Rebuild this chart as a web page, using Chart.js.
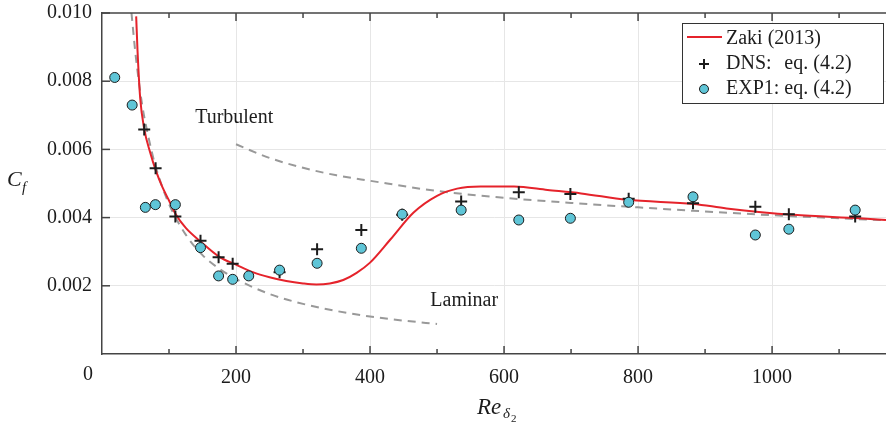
<!DOCTYPE html>
<html>
<head>
<meta charset="utf-8">
<script src="https://cdn.jsdelivr.net/npm/chart.js@4.4.1/dist/chart.umd.min.js"></script>
<style>
  html, body { margin: 0; padding: 0; background: #fff; }
  #wrap { width: 886px; height: 425px; }
</style>
</head>
<body>
<div id="wrap"><canvas id="myChart" width="886" height="425"></canvas></div>
<script>
// Zaki (2013) curve
const zakiRe = [51, 53, 57, 63, 72, 80, 90, 100, 110, 125, 147, 175, 200, 225, 250, 275, 300, 320, 340, 360, 380, 400, 430, 465, 500, 530, 565, 615, 665, 715, 783, 883, 932, 1032, 1131, 1170];
const zakiCf = [0.0099, 0.0089, 0.0075, 0.0066, 0.0059, 0.0054, 0.0049, 0.0045, 0.0041, 0.0037, 0.0033, 0.00285, 0.00262, 0.0024, 0.00225, 0.00214, 0.00207, 0.00204, 0.00207, 0.00217, 0.00238, 0.00268, 0.00335, 0.00415, 0.00464, 0.00485, 0.00491, 0.00491, 0.00481, 0.00471, 0.00452, 0.0044, 0.00427, 0.00408, 0.00398, 0.00393];

// DNS: eq. (4.2)
const dnsRe = [63, 80, 109.5, 147, 174, 195, 265, 321, 387, 448, 536, 622, 699, 786, 882, 975, 1025, 1124];
const dnsCf = [0.00658, 0.00545, 0.00403, 0.00332, 0.00284, 0.00265, 0.0024, 0.00307, 0.00364, 0.00408, 0.00447, 0.00474, 0.00469, 0.00455, 0.00442, 0.00432, 0.0041, 0.00403];

// EXP1: eq. (4.2)
const expRe = [19, 45, 64.7, 79.7, 109.5, 147, 174, 195, 219, 265, 321, 387, 448, 536, 622, 699, 786, 882, 975, 1025, 1124];
const expCf = [0.00811, 0.0073, 0.0043, 0.00438, 0.00438, 0.00312, 0.00229, 0.00219, 0.00229, 0.00246, 0.00266, 0.0031, 0.0041, 0.00422, 0.00393, 0.00398, 0.00445, 0.00461, 0.00349, 0.00366, 0.00422];

// dashed reference curves
const lamRe = [44, 50, 60, 70, 80, 100, 125, 150, 175, 200, 250, 300, 350, 400, 450, 500];
const lamCf = [0.0100, 0.0088, 0.0073, 0.0063, 0.0055, 0.0044, 0.0035, 0.0029, 0.0025, 0.0022, 0.00176, 0.00147, 0.00126, 0.0011, 0.00098, 0.00088];
const turbRe = [200, 250, 300, 350, 400, 500, 600, 700, 800, 900, 1000, 1100, 1170];
const turbCf = [0.00615, 0.00575, 0.00546, 0.00524, 0.00508, 0.00478, 0.00458, 0.00443, 0.0043, 0.00418, 0.00407, 0.00398, 0.00392];

const legendLabels = ['Zaki (2013)', 'DNS:', 'EXP1:'];
const legendEq = 'eq. (4.2)';

const toPts = (xs, ys) => xs.map((v, i) => ({ x: v, y: ys[i] }));

const SERIF = "'Liberation Serif', 'DejaVu Serif', serif";
const RED = '#e5232b';
const CYAN = '#5fc5d7';
const DARK = '#1c1c1c';
const GRAY = '#999999';

const decor = {
    id: 'decor',
    afterDraw(chart) {
        const { ctx, chartArea: a, scales: { x, y } } = chart;
        ctx.save();
        ctx.strokeStyle = '#444';
        ctx.lineWidth = 1.5;
        // top border
        ctx.beginPath();
        ctx.moveTo(a.left, a.top);
        ctx.lineTo(a.right, a.top);
        ctx.stroke();
        // inward ticks on x (bottom and top)
        for (let v = 100; v <= 1100; v += 100) {
            const px = x.getPixelForValue(v);
            const len = v % 200 === 0 ? 8 : 5;
            ctx.beginPath();
            ctx.moveTo(px, a.bottom); ctx.lineTo(px, a.bottom - len);
            ctx.moveTo(px, a.top); ctx.lineTo(px, a.top + len);
            ctx.stroke();
        }
        // inward ticks on y
        for (let i = 1; i <= 5; i++) {
            const py = y.getPixelForValue(i * 0.002);
            ctx.beginPath();
            ctx.moveTo(a.left, py); ctx.lineTo(a.left + 8, py);
            ctx.stroke();
        }

        // corner "0"
        ctx.fillStyle = DARK;
        ctx.font = '20px ' + SERIF;
        ctx.textAlign = 'center';
        ctx.textBaseline = 'middle';
        ctx.fillText('0', a.left - 14, 375);

        // region labels
        ctx.textAlign = 'left';
        ctx.fillText('Turbulent', x.getPixelForValue(139), y.getPixelForValue(0.00692));
        ctx.fillText('Laminar', x.getPixelForValue(490), y.getPixelForValue(0.00155));

        // axis titles
        ctx.font = 'italic 22px ' + SERIF;
        ctx.textBaseline = 'alphabetic';
        ctx.fillText('C', 7, 186);
        ctx.font = 'italic 15px ' + SERIF;
        ctx.fillText('f', 22, 192);

        ctx.font = 'italic 23px ' + SERIF;
        ctx.fillText('Re', 477, 414);
        ctx.font = 'italic 15px ' + SERIF;
        ctx.fillText('\u03b4', 503, 418);
        ctx.font = '11px ' + SERIF;
        ctx.fillText('2', 511, 422);

        // legend
        const bx = 682, by = 23, bw = 201, bh = 80;
        ctx.fillStyle = '#fff';
        ctx.fillRect(bx, by, bw, bh);
        ctx.strokeStyle = '#333';
        ctx.lineWidth = 1;
        ctx.strokeRect(bx + 0.5, by + 0.5, bw, bh);

        const rows = [39, 64, 89];
        const mx = 704, tx = 726;
        ctx.strokeStyle = RED;
        ctx.lineWidth = 2;
        ctx.beginPath();
        ctx.moveTo(687, rows[0] - 2); ctx.lineTo(722, rows[0] - 2);
        ctx.stroke();

        ctx.strokeStyle = DARK;
        ctx.lineWidth = 2;
        ctx.beginPath();
        ctx.moveTo(mx - 5, rows[1]); ctx.lineTo(mx + 5, rows[1]);
        ctx.moveTo(mx, rows[1] - 5); ctx.lineTo(mx, rows[1] + 5);
        ctx.stroke();

        ctx.fillStyle = CYAN;
        ctx.strokeStyle = DARK;
        ctx.lineWidth = 1;
        ctx.beginPath();
        ctx.arc(mx, rows[2], 4.5, 0, Math.PI * 2);
        ctx.fill();
        ctx.stroke();

        ctx.fillStyle = DARK;
        ctx.font = '20px ' + SERIF;
        ctx.textBaseline = 'middle';
        ctx.textAlign = 'left';
        ctx.fillText(legendLabels[0], tx, rows[0]);
        ctx.fillText(legendLabels[1], tx, rows[1]);
        ctx.fillText(legendLabels[2], tx, rows[2]);
        const eqX = tx + ctx.measureText(legendLabels[2] + ' ').width;
        ctx.fillText(legendEq, eqX, rows[1]);
        ctx.fillText(legendEq, eqX, rows[2]);
        ctx.restore();
    }
};

const chartCtx = document.getElementById('myChart').getContext('2d');
new Chart(chartCtx, {
    type: 'scatter',
    data: {
        datasets: [
            {
                label: 'EXP1: eq. (4.2)',
                data: toPts(expRe, expCf),
                pointStyle: 'circle',
                pointRadius: 5,
                backgroundColor: CYAN,
                borderColor: DARK,
                borderWidth: 1,
                order: 0
            },
            {
                label: 'DNS: eq. (4.2)',
                data: toPts(dnsRe, dnsCf),
                pointStyle: 'cross',
                pointRadius: 6,
                borderColor: DARK,
                borderWidth: 2,
                order: 1
            },
            {
                label: 'Zaki (2013)',
                data: toPts(zakiRe, zakiCf),
                showLine: true,
                pointRadius: 0,
                borderColor: RED,
                borderWidth: 2,
                cubicInterpolationMode: 'monotone',
                order: 2
            },
            {
                label: 'Laminar',
                data: toPts(lamRe, lamCf),
                showLine: true,
                pointRadius: 0,
                borderColor: GRAY,
                borderWidth: 2,
                borderDash: [8, 6],
                cubicInterpolationMode: 'monotone',
                order: 3
            },
            {
                label: 'Turbulent',
                data: toPts(turbRe, turbCf),
                showLine: true,
                pointRadius: 0,
                borderColor: GRAY,
                borderWidth: 2,
                borderDash: [8, 6],
                cubicInterpolationMode: 'monotone',
                order: 4
            }
        ]
    },
    options: {
        responsive: false,
        animation: false,
        devicePixelRatio: 1,
        layout: { autoPadding: false, padding: { top: 13, right: 0, bottom: 0, left: 0 } },
        plugins: {
            legend: { display: false },
            tooltip: { enabled: false }
        },
        scales: {
            x: {
                type: 'linear',
                min: 0,
                max: 1170,
                afterFit: s => { s.height = 71; s.paddingLeft = 0; s.paddingRight = 0; },
                border: { display: true, color: '#444', width: 1.5 },
                grid: {
                    drawTicks: false,
                    color: c => (c.tick && c.tick.value % 200 === 0 && c.tick.value > 0) ? '#e6e6e6' : 'rgba(0,0,0,0)',
                    lineWidth: 1
                },
                ticks: {
                    stepSize: 100,
                    autoSkip: false,
                    maxRotation: 0,
                    padding: 12,
                    color: DARK,
                    font: { family: SERIF, size: 20 },
                    callback: v => (v % 200 === 0 && v > 0) ? String(v) : ''
                }
            },
            y: {
                min: 0,
                max: 0.01,
                afterFit: s => { s.width = 102; s.paddingTop = 0; s.paddingBottom = 0; },
                border: { display: true, color: '#444', width: 1.5 },
                grid: {
                    drawTicks: false,
                    color: c => (c.tick && c.tick.value > 0.0001 && c.tick.value < 0.0099) ? '#e6e6e6' : 'rgba(0,0,0,0)',
                    lineWidth: 1
                },
                ticks: {
                    stepSize: 0.002,
                    padding: 10,
                    color: DARK,
                    font: { family: SERIF, size: 20 },
                    callback: v => v > 0.0001 ? v.toFixed(3) : ''
                }
            }
        }
    },
    plugins: [decor]
});
</script>
</body>
</html>
